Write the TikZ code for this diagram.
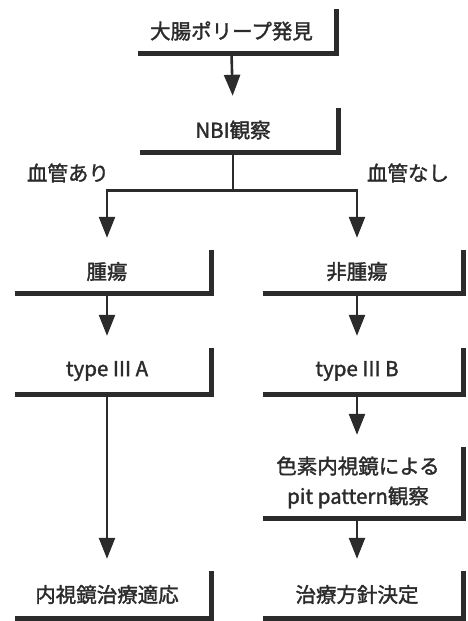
\documentclass[tikz,border=0pt]{standalone}
\usepackage{fontspec}
\setmainfont{Noto Sans CJK JP}[FakeBold=1.6]
\usetikzlibrary{arrows.meta}
\definecolor{ink}{HTML}{2B2B2B}
\begin{document}
\begin{tikzpicture}[x=1pt,y=-1pt,
  txt/.style={font=\fontsize{20.5}{30}\selectfont, text=ink, inner sep=0pt},
  box/.style={txt, minimum width=198pt, minimum height=44pt,
    execute at begin node={\hspace*{-12pt}}},
  multibox/.style={txt, align=center},
  rim/.style={draw=ink, line width=5pt, line join=miter},
  conn/.style={draw=ink, line width=2.6pt},
  arr/.style={conn, -{Triangle[width=16pt,length=21pt]}, shorten >=12pt}
]
\useasboundingbox (0,0) rectangle (467,621);
\fill[white] (0,0) rectangle (467,621);

\node[box] (b1) at (237.5,31) {大腸ポリープ発見};
\node[box] (b2) at (239,130) {NBI観察};
\node[box, minimum width=196pt, minimum height=43pt] (t1) at (113,271.5) {腫瘍};
\node[box, minimum width=200pt, minimum height=43pt] (n1) at (363,271.5) {非腫瘍};
\node[box, minimum width=196pt, minimum height=46pt] (a1) at (113,371) {type\,Ⅲ\,A};
\node[box, minimum width=200pt, minimum height=46pt] (a2) at (363,371) {type\,Ⅲ\,B};
\node[multibox, minimum width=200pt, minimum height=71pt] (p1) at (363,482.5)
  {\hspace*{-10pt}色素内視鏡による\\\hspace*{-10pt}pit pattern観察};
\node[box, minimum width=196pt, minimum height=47pt] (e1) at (113,594.5) {内視鏡治療適応};
\node[box, minimum width=200pt, minimum height=47pt] (d1) at (363,594.5) {治療方針決定};

\node[txt] (l1) at (68,173) {血管あり};
\node[txt] (l2) at (408,173) {血管なし};

\draw[arr] ([xshift=-6pt]b1.south) -- ([xshift=-6pt]b2.north);
\draw[conn] ([xshift=-6pt]b2.south) -- ([xshift=-6pt,yshift=-38pt]b2.south) coordinate (split);
\draw[arr] (split) -| ([xshift=-6pt]t1.north);
\draw[arr] (split) -| ([xshift=-6pt]n1.north);
\draw[arr] ([xshift=-6pt]t1.south) -- ([xshift=-6pt]a1.north);
\draw[arr] ([xshift=-6pt]n1.south) -- ([xshift=-6pt]a2.north);
\draw[arr] ([xshift=-6pt]a1.south) -- ([xshift=-6pt]e1.north);
\draw[arr] ([xshift=-6pt]a2.south) -- ([xshift=-6pt]p1.north);
\draw[arr] ([xshift=-6pt]p1.south) -- ([xshift=-6pt]d1.north);

\foreach \n in {b1,b2,t1,n1,a1,a2,p1,e1,d1}
  \draw[rim] (\n.south west) -| (\n.north east);
\end{tikzpicture}
\end{document}
